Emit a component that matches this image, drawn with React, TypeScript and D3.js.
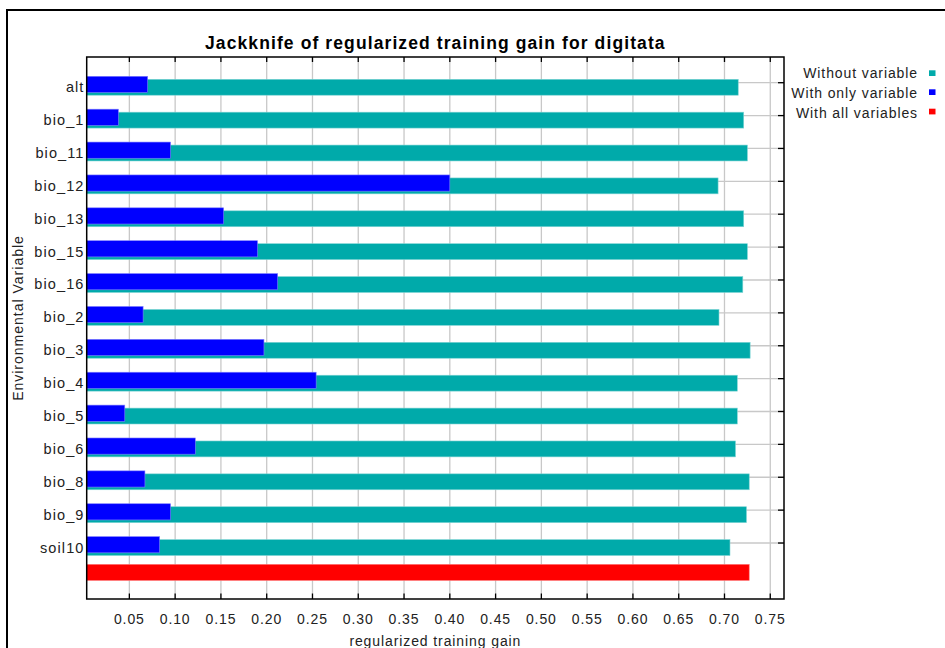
import React from "react";
import * as d3 from "d3";

// Jackknife results per environmental variable
const variables = [
  "alt", "bio_1", "bio_11", "bio_12", "bio_13", "bio_15", "bio_16", "bio_2",
  "bio_3", "bio_4", "bio_5", "bio_6", "bio_8", "bio_9", "soil10",
];
const withoutVariable = [
  0.715, 0.721, 0.725, 0.693, 0.721, 0.725, 0.720, 0.694,
  0.728, 0.714, 0.714, 0.712, 0.727, 0.724, 0.706,
];
const withOnlyVariable = [
  0.070, 0.038, 0.095, 0.400, 0.153, 0.190, 0.212, 0.065,
  0.197, 0.254, 0.045, 0.122, 0.067, 0.095, 0.083,
];
const withAllVariables = [0.727];

const xTickValues = [0.05, 0.1, 0.15, 0.2, 0.25, 0.3, 0.35, 0.4, 0.45, 0.5, 0.55, 0.6, 0.65, 0.7, 0.75];
const xTickLabels = ["0.05", "0.10", "0.15", "0.20", "0.25", "0.30", "0.35", "0.40", "0.45", "0.50", "0.55", "0.60", "0.65", "0.70", "0.75"];

const legendItems = [
  { label: "Without variable", color: "#00aaaa" },
  { label: "With only variable", color: "#0000ff" },
  { label: "With all variables", color: "#ff0000" },
];

const FONT = "'Liberation Sans', Arial, Helvetica, sans-serif";
const TEAL = "#00aaaa";
const BLUE = "#0000ff";
const RED = "#ff0000";

export default function App() {
  const W = 945;
  const H = 648;
  const plot = { left: 86.7, right: 784, top: 57, bottom: 599 };

  const x = d3.scaleLinear().domain([0.0034, 0.765]).range([plot.left, plot.right]);
  const rows = [...variables, ""];
  const y = d3
    .scalePoint<string>()
    .domain(rows.map((_, i) => String(i)))
    .range([82.7, 82.7 + 15 * 32.88]);
  const yi = (i: number) => y(String(i)) as number;

  const barH = 16.2;
  const x0 = x(x.domain()[0]);
  const plotCx = (plot.left + plot.right) / 2;

  return (
    <svg
      width={W}
      height={H}
      style={{ position: "absolute", left: 0, top: 0, background: "#fff" }}
      fontFamily={FONT}
    >
      <rect x={0} y={0} width={W} height={H} fill="#fff" />
      {/* outer frame */}
      <rect x={7} y={10} width={W + 20} height={H + 20} fill="none" stroke="#000" strokeWidth={2} />

      {/* title */}
      <text x={plotCx} y={49} textAnchor="middle" fontSize={17.5} fontWeight="bold" letterSpacing={1.1} fill="#000">
        Jackknife of regularized training gain for digitata
      </text>

      {/* gridlines */}
      {xTickValues.map((v) => (
        <line key={"gx" + v} x1={x(v)} x2={x(v)} y1={plot.top} y2={plot.bottom} stroke="#c8c8c8" strokeWidth={1.3} />
      ))}
      {variables.map((_, i) => (
        <line key={"gy" + i} x1={plot.left} x2={plot.right} y1={yi(i)} y2={yi(i)} stroke="#c8c8c8" strokeWidth={1.3} />
      ))}

      {/* bars: without variable (behind), with only variable (front) */}
      {withoutVariable.map((v, i) => (
        <rect key={"t" + i} x={x0} y={yi(i) - 3.4} width={x(v) - x0} height={barH - 0.3}
          fill={TEAL} stroke="#7fd4d4" strokeWidth={0.6} />
      ))}
      {withOnlyVariable.map((v, i) => (
        <rect key={"b" + i} x={x0} y={yi(i) - 6.4} width={x(v) - x0} height={barH}
          fill={BLUE} stroke="#7f7fff" strokeWidth={0.6} />
      ))}
      {withAllVariables.map((v, i) => (
        <rect key={"r" + i} x={x0} y={yi(15) - 11.6} width={x(v) - x0} height={barH}
          fill={RED} stroke="#ff8080" strokeWidth={0.6} />
      ))}

      {/* plot border */}
      <rect x={plot.left} y={plot.top} width={plot.right - plot.left} height={plot.bottom - plot.top}
        fill="none" stroke="#000" strokeWidth={1.5} />

      {/* x ticks: top and bottom, pointing inward */}
      {xTickValues.map((v) => (
        <g key={"xt" + v}>
          <line x1={x(v)} x2={x(v)} y1={plot.top} y2={plot.top + 5} stroke="#000" strokeWidth={1.3} />
          <line x1={x(v)} x2={x(v)} y1={plot.bottom} y2={plot.bottom - 5.5} stroke="#000" strokeWidth={1.3} />
        </g>
      ))}
      {/* right axis ticks */}
      {variables.map((_, i) => (
        <line key={"yt" + i} x1={plot.right} x2={plot.right - 6} y1={yi(i)} y2={yi(i)} stroke="#000" strokeWidth={1.3} />
      ))}

      {/* x tick labels */}
      {xTickValues.map((v, i) => (
        <text key={"xl" + v} x={x(v)} y={624.3} textAnchor="middle" fontSize={14} letterSpacing={0.9} fill="#222">
          {xTickLabels[i]}
        </text>
      ))}

      {/* category labels */}
      {variables.map((name, i) => (
        <text key={"yl" + i} x={84.5} y={yi(i) + 9.5} textAnchor="end" fontSize={14.5} letterSpacing={1.1} fill="#222">
          {name}
        </text>
      ))}

      {/* axis titles */}
      <text x={plotCx} y={646} textAnchor="middle" fontSize={14} letterSpacing={0.9} fill="#222">
        regularized training gain
      </text>
      <text transform={`translate(23,318) rotate(-90)`} textAnchor="middle" fontSize={14} letterSpacing={1} fill="#222">
        Environmental Variable
      </text>

      {/* legend */}
      {legendItems.map((d, i) => (
        <g key={"lg" + i}>
          <text x={918} y={[77.7, 97.5, 118.3][i]} textAnchor="end" fontSize={14} letterSpacing={0.9} fill="#222">
            {d.label}
          </text>
          <rect x={929} y={[70.3, 89.3, 108.7][i]} width={6.5} height={5.7} fill={d.color} />
        </g>
      ))}
    </svg>
  );
}
